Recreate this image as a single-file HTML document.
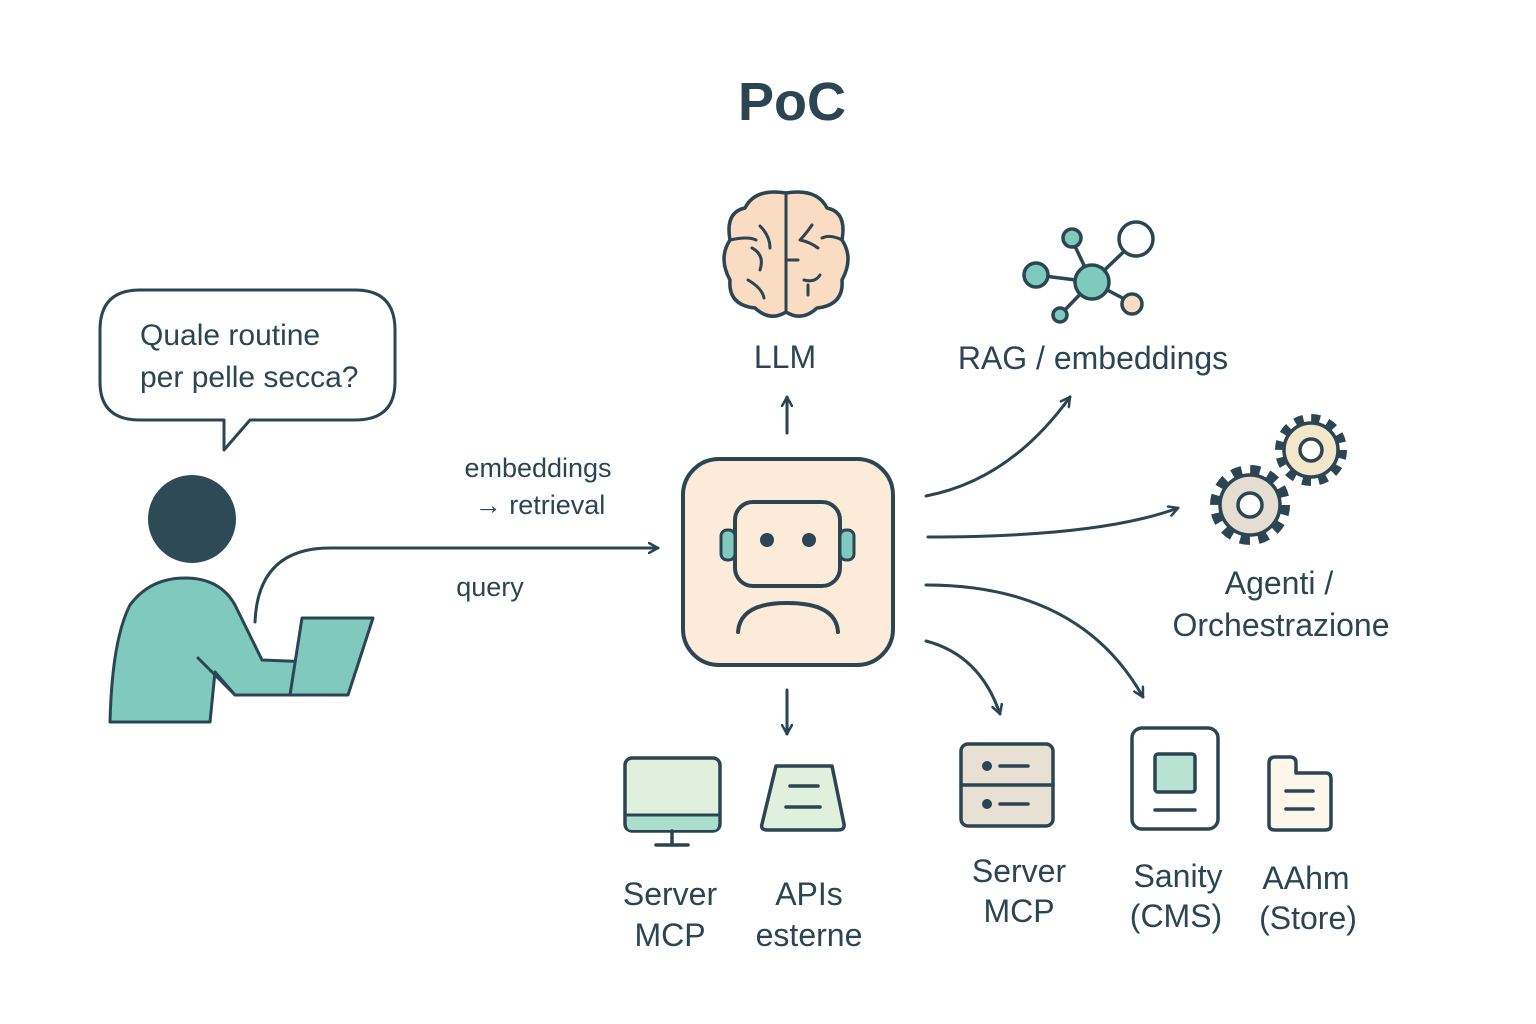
<!DOCTYPE html>
<html><head><meta charset="utf-8"><style>
html,body{margin:0;padding:0;background:#fff;}
svg{display:block;}
text{font-family:"Liberation Sans",sans-serif;fill:#2b4552;}
</style></head><body>
<svg width="1536" height="1024" viewBox="0 0 1536 1024" xmlns="http://www.w3.org/2000/svg">
<defs>
<marker id="ar" viewBox="0 0 12 12" refX="10" refY="6" markerWidth="12" markerHeight="12" markerUnits="userSpaceOnUse" orient="auto">
<path d="M1,1 L10,6 L1,11" fill="none" stroke="#2b4552" stroke-width="2.5" stroke-linecap="round" stroke-linejoin="round"/>
</marker>
</defs>
<g stroke="#2b4552" stroke-width="4" stroke-linecap="round" stroke-linejoin="round">
<!-- title -->
<text x="792" y="120" font-size="54" font-weight="bold" text-anchor="middle" stroke="none">PoC</text>

<!-- speech bubble -->
<path d="M140,290 H355 Q395,290 395,330 V382 Q395,420 355,420 H250 L224,450 L224,420 H140 Q100,420 100,382 V330 Q100,290 140,290 Z" fill="#fff" stroke-width="3"/>
<text x="140" y="345" font-size="30" stroke="none">Quale routine</text>
<text x="140" y="387" font-size="30" stroke="none">per pelle secca?</text>

<!-- person -->
<circle cx="192" cy="519" r="44" fill="#2e4a56" stroke="none"/>
<path d="M110,722 Q112,640 130,605 Q150,578 185,578 Q220,578 235,605 L262,660 L312,662 Q320,675 312,695 L235,695 L215,672 L210,722 Z" fill="#7fcabd" stroke="#2b4552" stroke-width="3"/>
<path d="M198,658 L235,695" fill="none" stroke-width="3"/>
<path d="M302,618 L373,618 L348,695 L290,695 Z" fill="#7fcabd" stroke-width="3"/>

<!-- query arrow -->
<path d="M255,622 Q258,548 330,548 L658,548" fill="none" stroke-width="3" marker-end="url(#ar)"/>
<text x="538" y="477" font-size="27" text-anchor="middle" stroke="none">embeddings</text>
<text x="540" y="514" font-size="27" text-anchor="middle" stroke="none">→ retrieval</text>
<text x="490" y="596" font-size="27" text-anchor="middle" stroke="none">query</text>

<!-- robot box -->
<rect x="683" y="459" width="210" height="206" rx="36" fill="#fdebd9"/>
<rect x="735" y="502" width="105" height="84" rx="18" fill="#fdebd9"/>
<rect x="721" y="530" width="14" height="30" rx="6" fill="#7fcabd" stroke-width="3"/>
<rect x="840" y="530" width="14" height="30" rx="6" fill="#7fcabd" stroke-width="3"/>
<circle cx="767" cy="540" r="7" fill="#2b4552" stroke="none"/>
<circle cx="809" cy="540" r="7" fill="#2b4552" stroke="none"/>
<path d="M738,632 Q740,603 787,603 Q836,603 838,632" fill="none"/>

<!-- brain -->
<path d="M786,193 Q755,188 745,208 Q725,212 730,240 Q718,258 730,280 Q728,305 755,308 Q770,322 786,312 Q802,322 817,308 Q844,305 842,280 Q854,258 842,240 Q847,212 827,208 Q817,188 786,193 Z" fill="#f9dcc2" stroke-width="3.5"/>
<path d="M786,193 V312 M760,226 Q770,236 770,248 M752,248 Q765,255 760,270 M748,280 Q762,288 764,298 M786,260 H798 M812,225 Q805,235 800,240 Q810,242 818,248 M804,280 Q815,283 820,275 M808,285 V295 M730,240 Q748,236 756,240 M842,240 Q830,234 822,238" fill="none" stroke-width="3"/>
<text x="785" y="368" font-size="32" text-anchor="middle" stroke="none">LLM</text>
<path d="M787,433 V397" fill="none" stroke-width="3" marker-end="url(#ar)"/>

<!-- RAG network -->
<g stroke-width="3.5">
<line x1="1092" y1="282" x2="1072" y2="240"/><line x1="1092" y1="282" x2="1136" y2="240"/>
<line x1="1092" y1="282" x2="1036" y2="275"/><line x1="1092" y1="282" x2="1132" y2="303"/>
<line x1="1092" y1="282" x2="1060" y2="315"/>
<circle cx="1092" cy="282" r="17" fill="#7fcabd"/>
<circle cx="1072" cy="238" r="9" fill="#7fcabd"/>
<circle cx="1136" cy="239" r="17" fill="#fff"/>
<circle cx="1036" cy="275" r="12" fill="#7fcabd"/>
<circle cx="1132" cy="304" r="10" fill="#f9dcc2"/>
<circle cx="1060" cy="315" r="7" fill="#7fcabd"/>
</g>
<text x="1093" y="369" font-size="32" text-anchor="middle" stroke="none">RAG / embeddings</text>

<!-- arrows right -->
<path d="M926,496 Q1010,480 1070,397" fill="none" stroke-width="3" marker-end="url(#ar)"/>
<path d="M928,537 Q1100,537 1178,508" fill="none" stroke-width="3" marker-end="url(#ar)"/>
<path d="M926,585 Q1080,585 1143,697" fill="none" stroke-width="3" marker-end="url(#ar)"/>
<path d="M926,641 Q980,655 1000,714" fill="none" stroke-width="3" marker-end="url(#ar)"/>
<path d="M787,690 V734" fill="none" stroke-width="3" marker-end="url(#ar)"/>

<!-- gears -->
<circle cx="1250" cy="505" r="32" fill="none" stroke="#2b4552" stroke-width="16" stroke-dasharray="9 7.75" stroke-linecap="butt"/>
<circle cx="1250" cy="505" r="30" fill="#e4ddd0" stroke-width="3.5"/>
<circle cx="1250" cy="505" r="12" fill="#fff" stroke-width="3.5"/>
<circle cx="1311" cy="450" r="29" fill="none" stroke="#2b4552" stroke-width="14" stroke-dasharray="8 7.18" stroke-linecap="butt"/>
<circle cx="1311" cy="450" r="27" fill="#f4e6c8" stroke-width="3.5"/>
<circle cx="1311" cy="450" r="11" fill="#fff" stroke-width="3.5"/>
<text x="1279" y="594" font-size="32" text-anchor="middle" stroke="none">Agenti /</text>
<text x="1281" y="636" font-size="32" text-anchor="middle" stroke="none">Orchestrazione</text>

<!-- monitor -->
<rect x="625" y="758" width="95" height="73" rx="7" fill="#dff0dc" stroke-width="3.5"/>
<path d="M627,815 H718 V825 Q718,830 713,830 H632 Q627,830 627,825 Z" fill="#a9dfcc" stroke="none"/>
<line x1="625" y1="815" x2="720" y2="815" stroke-width="3"/>
<line x1="672" y1="831" x2="672" y2="844" stroke-width="3.5"/>
<line x1="656" y1="845" x2="688" y2="845" stroke-width="3.5"/>
<text x="670" y="905" font-size="32" text-anchor="middle" stroke="none">Server</text>
<text x="670" y="946" font-size="32" text-anchor="middle" stroke="none">MCP</text>

<!-- API -->
<path d="M776,766 H832 L844,824 Q845,830 838,830 H768 Q760,830 762,824 Z" fill="#dff0dc" stroke-width="3.5"/>
<line x1="790" y1="786" x2="818" y2="786" stroke-width="3.5"/><line x1="786" y1="807" x2="820" y2="807" stroke-width="3.5"/>
<text x="809" y="905" font-size="32" text-anchor="middle" stroke="none">APIs</text>
<text x="809" y="946" font-size="32" text-anchor="middle" stroke="none">esterne</text>

<!-- server -->
<rect x="961" y="744" width="92" height="82" rx="7" fill="#e8e0d2" stroke-width="3.5"/>
<line x1="961" y1="785" x2="1053" y2="785" stroke-width="3.5"/>
<circle cx="987" cy="766" r="3" fill="#2b4552"/><line x1="1000" y1="766" x2="1028" y2="766" stroke-width="3.5"/>
<circle cx="987" cy="804" r="3" fill="#2b4552"/><line x1="1000" y1="804" x2="1028" y2="804" stroke-width="3.5"/>
<text x="1019" y="882" font-size="32" text-anchor="middle" stroke="none">Server</text>
<text x="1019" y="922" font-size="32" text-anchor="middle" stroke="none">MCP</text>

<!-- sanity -->
<rect x="1132" y="728" width="86" height="101" rx="10" fill="#fff" stroke-width="3.5"/>
<rect x="1155" y="754" width="40" height="38" rx="3" fill="#b8e3d3" stroke-width="3.5"/>
<line x1="1155" y1="810" x2="1195" y2="810" stroke-width="3.5"/>
<text x="1178" y="887" font-size="32" text-anchor="middle" stroke="none">Sanity</text>
<text x="1176" y="927" font-size="32" text-anchor="middle" stroke="none">(CMS)</text>

<!-- doc -->
<path d="M1275,757 H1290 Q1296,757 1296,763 V773 H1326 Q1331,773 1331,779 V825 Q1331,830 1325,830 H1275 Q1269,830 1269,825 V763 Q1269,757 1275,757 Z" fill="#fdf6ea" stroke-width="3.5"/>
<line x1="1286" y1="791" x2="1313" y2="791" stroke-width="3.5"/><line x1="1286" y1="809" x2="1313" y2="809" stroke-width="3.5"/>
<text x="1306" y="889" font-size="32" text-anchor="middle" stroke="none">AAhm</text>
<text x="1308" y="929" font-size="32" text-anchor="middle" stroke="none">(Store)</text>
</g>
</svg>
</body></html>
